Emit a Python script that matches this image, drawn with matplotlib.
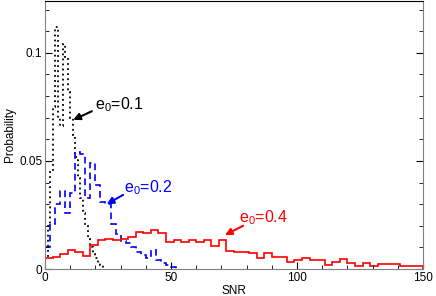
import numpy as np
import matplotlib
matplotlib.use("Agg")
import matplotlib.pyplot as plt
from matplotlib.ticker import MultipleLocator

plt.rcParams['font.family'] = ['Liberation Sans', 'DejaVu Sans']
plt.rcParams['mathtext.fontset'] = 'custom'
plt.rcParams['mathtext.rm'] = 'Liberation Sans'

# e0 = 0.1 (bin width 1)
edges_01 = np.arange(0, 24, 1)
prob_01 = [0.005, 0.02, 0.045, 0.075, 0.112, 0.07, 0.066, 0.104, 0.098, 0.082,
           0.07, 0.062, 0.052, 0.042, 0.033, 0.026, 0.02, 0.014, 0.01, 0.007,
           0.005, 0.003, 0.002]

# e0 = 0.2 (bin width 2)
edges_02 = np.arange(0, 54, 2)
prob_02 = [0.01, 0.021, 0.03, 0.036, 0.026, 0.035, 0.054, 0.053, 0.033, 0.049,
           0.039, 0.031, 0.03, 0.021, 0.016, 0.013, 0.012, 0.01, 0.008, 0.0065,
           0.005, 0.009, 0.004, 0.003, 0.002, 0.001]

# e0 = 0.4 (bin width 3)
edges_04 = np.arange(0, 153, 3)
prob_04 = [0.005, 0.0055, 0.007, 0.0088, 0.008, 0.006, 0.011, 0.0134, 0.014, 0.0134,
           0.014, 0.015, 0.0173, 0.0165, 0.018, 0.0168, 0.0127, 0.0134, 0.0127, 0.0134,
           0.0127, 0.0134, 0.0106, 0.0134, 0.0083, 0.008, 0.008, 0.0074, 0.005, 0.0074,
           0.0057, 0.0057, 0.0034, 0.0042, 0.005, 0.0042, 0.0042, 0.0018, 0.0034, 0.0045,
           0.003, 0.0015, 0.0026, 0.0015, 0.0023, 0.0023, 0.0023, 0.0014, 0.0014, 0.0014]

# labels: (text, arrow tip, arrow tail, text position, colour)
labels = [
    ('e$\\mathregular{_0}$=0.1', (11.2, 0.069), (18.6, 0.0730), (19.8, 0.0738), 'black'),
    ('e$\\mathregular{_0}$=0.2', (24.5, 0.030), (31.0, 0.0343), (31.3, 0.0356), 'blue'),
    ('e$\\mathregular{_0}$=0.4', (71.4, 0.0157), (78.6, 0.0200), (76.8, 0.0218), 'red'),
]

fig = plt.figure(figsize=(4.36, 2.96), dpi=100)
ax = fig.add_axes([45/436, 27/296, 378/436, 268/296])

ax.stairs(prob_01, edges_01, color='black', lw=1.3, linestyle=(0, (1, 1.8)))
ax.stairs(prob_02, edges_02, color='blue', lw=1.2, linestyle=(0, (4, 2.5)))
ax.stairs(prob_04, edges_04, color='red', lw=1.2)

ax.set_xlim(0, 150)
ax.set_ylim(0, 0.124)
ax.xaxis.set_major_locator(MultipleLocator(50))
ax.xaxis.set_minor_locator(MultipleLocator(10))
ax.yaxis.set_minor_locator(MultipleLocator(0.01))
ax.set_yticks([0, 0.05, 0.1])
ax.set_yticklabels(['0', '0.05', '0.1'])
ax.tick_params(which='both', direction='in', right=True, top=False, labelsize=8.5, pad=2)
ax.tick_params(which='major', length=5)
ax.tick_params(which='minor', length=3)
for s in ['left', 'right', 'bottom']:
    ax.spines[s].set_color('#808080')

ax.set_xlabel('SNR', fontsize=8.5, labelpad=1)
ax.set_ylabel('Probability', fontsize=8.5, labelpad=2)

for txt, tip, tail, pos, col in labels:
    ax.annotate('', xy=tip, xytext=tail,
                arrowprops=dict(arrowstyle='-|>', lw=1.5, color=col,
                                mutation_scale=10, shrinkA=0, shrinkB=0))
    ax.text(pos[0], pos[1], txt, fontsize=11.5, color=col, ha='left', va='baseline')

fig.savefig('out.png', dpi=100)
